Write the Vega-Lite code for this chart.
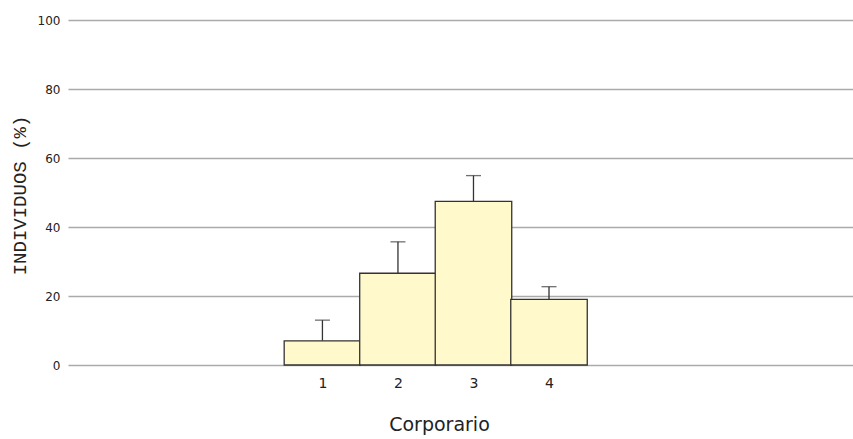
{
  "$schema": "https://vega.github.io/schema/vega-lite/v6.json",
  "width": 785,
  "height": 345,
  "autosize": {"type": "none"},
  "padding": {"left": 68, "top": 20, "right": 0, "bottom": 74},
  "background": "white",
  "config": {"view": {"stroke": null}, "font": "DejaVu Sans"},
  "data": {"values": [
    {"cat": 1, "pct": 7.0, "upper": 13.0},
    {"cat": 2, "pct": 26.6, "upper": 35.7},
    {"cat": 3, "pct": 47.4, "upper": 54.9},
    {"cat": 4, "pct": 19.0, "upper": 22.7}
  ]},
  "encoding": {
    "x": {
      "field": "cat", "type": "quantitative",
      "scale": {"domain": [-2.3026, 7.9588], "nice": false, "zero": false},
      "axis": {"title": "Corporario", "values": [1, 2, 3, 4], "format": "d", "grid": false, "titleFontSize": 19, "titleFontWeight": "normal", "titleColor": "#222", "titleX": 371, "titleY": 65, "titleBaseline": "alphabetic", "titleAlign": "center", "labelAngle": 0, "labelFontSize": 14, "labelColor": "#222", "labelPadding": 11, "ticks": false, "domain": false}
    }
  },
  "layer": [
    {
      "mark": {"type": "rule", "color": "#333", "strokeWidth": 1.3},
      "encoding": {"y": {"field": "pct", "type": "quantitative"}, "y2": {"field": "upper"}}
    },
    {
      "mark": {"type": "tick", "orient": "horizontal", "color": "#333", "size": 15, "thickness": 1.3},
      "encoding": {"y": {"field": "upper", "type": "quantitative"}}
    },
    {
      "mark": {"type": "bar", "width": 76.5, "fill": "#FFF9CC", "stroke": "#333", "strokeWidth": 1.3},
      "encoding": {
        "y": {
          "field": "pct", "type": "quantitative",
          "scale": {"domain": [0, 100]},
          "axis": {"title": "INDIVIDUOS (%)", "titleFont": "Liberation Mono", "titleFontSize": 19, "titleFontWeight": "normal", "titleColor": "#222", "titleAngle": 270, "titleX": -49, "titleY": 175, "titleBaseline": "middle", "titleAlign": "center", "values": [0, 20, 40, 60, 80, 100], "labelFontSize": 12, "labelColor": "#222", "labelPadding": 8, "ticks": false, "domain": false, "grid": true, "gridColor": "#aaa", "gridWidth": 1.5}
        }
      }
    },
    {
      "mark": {"type": "rule", "color": "#666", "strokeWidth": 2},
      "encoding": {"y": {"datum": 0}}
    }
  ]
}
